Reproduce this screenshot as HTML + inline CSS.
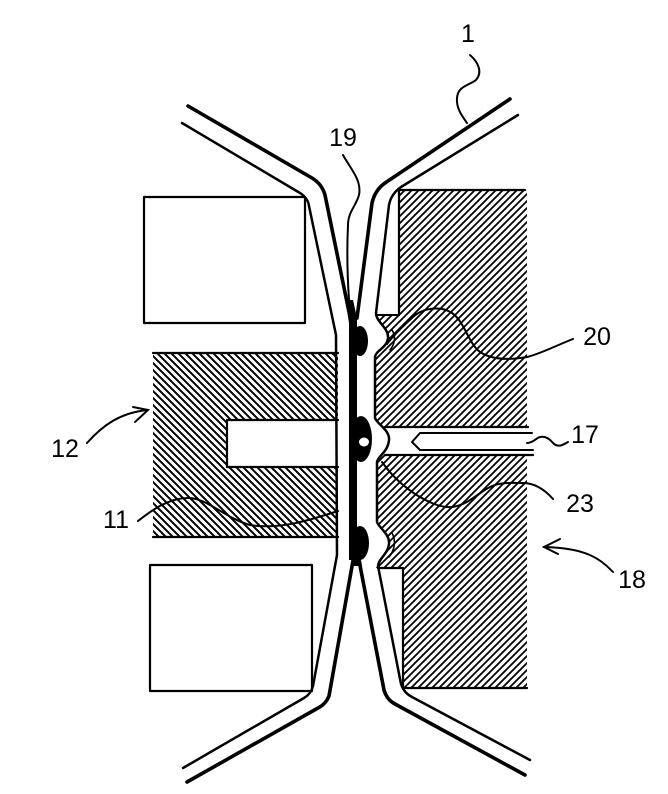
<!DOCTYPE html>
<html><head><meta charset="utf-8"><style>
html,body{margin:0;padding:0;background:#fff;}
svg{display:block;}
text{font-family:"Liberation Sans",Arial,sans-serif;font-size:25px;fill:#000;}
</style></head><body>
<svg width="668" height="794" viewBox="0 0 668 794" xmlns="http://www.w3.org/2000/svg">
<defs>
<pattern id="hr" patternUnits="userSpaceOnUse" x="0" y="0" width="7" height="7">
<path d="M-1,8 L8,-1 M-4,4 L4,-4 M3,11 L11,3" stroke="#000" stroke-width="1.8" fill="none"/>
</pattern>
<pattern id="hl" patternUnits="userSpaceOnUse" x="0" y="0" width="7" height="7">
<path d="M-1,-1 L8,8 M-4,3 L4,11 M3,-4 L11,4" stroke="#000" stroke-width="2" fill="none"/>
</pattern>
</defs>
<rect width="668" height="794" fill="#fff"/>

<!-- right hatched block -->
<path d="M399,190 L527,190 L527,688 L403,688 L403,568 L376,568 L376,315 L399,315 Z" fill="url(#hr)"/>
<rect x="376" y="427" width="156" height="28" fill="#fff"/>
<!-- left hatched block -->
<path d="M153,353 L338,353 L338,537 L153,537 Z" fill="url(#hl)"/>
<rect x="227" y="420" width="112" height="47" fill="#fff"/>

<!-- white sheet region over centre (bumps) -->
<path d="M340,310 L376,313 C376,322 389,328 388,338 C387,348 376,350 375,357 L375,418 C377,424 390,430 389,440 C388,452 378,456 377,462 L377,522 C379,528 390,534 389,544 C388,554 379,558 378,566 L340,566 Z" fill="#fff"/>

<g fill="none" stroke="#000" stroke-linecap="round" stroke-linejoin="round">
<!-- right block outline -->
<path d="M399,315 L399,190 L525,190" stroke-width="2.2"/>
<path d="M376,315 L399,315" stroke-width="2"/>
<path d="M378,568 L403,568 L403,688 L527,688" stroke-width="2.2"/>
<path d="M385,427 L528,427" stroke-width="2.2"/>
<path d="M385,455 L533,455" stroke-width="2.2"/>
<!-- needle 17 -->
<path d="M532,433 L420,433 L412,442 L420,450 L533,450" stroke-width="2"/>
<!-- left block outline -->
<path d="M153,353 L338,353" stroke-width="2.2"/>
<path d="M153,537 L338,537" stroke-width="2.2"/>
<path d="M338,420 L227,420 L227,467 L338,467" stroke-width="2.2"/>

<!-- left rectangles -->
<rect x="144" y="197" width="161" height="126" fill="#fff" stroke-width="2.2"/>
<rect x="150" y="565" width="162" height="126" fill="#fff" stroke-width="2.2"/>

<!-- left sheet outer line B -->
<path d="M182,123 L300,193 Q308,198 309,206 L336,335 L337,555 L313,686 Q311,694 304,698 L183,768" stroke-width="2.5"/>
<!-- left sheet inner line A -->
<path d="M188,106 L312,178 Q322,184 325,195 L349,312 L352,330" stroke-width="3.6"/>
<path d="M354,555 L329,696 Q326,704 318,708 L187,782" stroke-width="3.6"/>
<!-- right sheet inner line C -->
<path d="M510,99 L385,183 Q375,190 372,203 L357,318" stroke-width="3.6"/>
<path d="M358,555 L384,690 Q387,700 395,704 L525,775" stroke-width="3.6"/>
<!-- right sheet outer line D -->
<path d="M518,115 L401,187 Q391,194 389,205 L376,313 C376,322 389,328 388,338 C387,348 376,350 375,357 L375,418 C377,424 390,430 389,440 C388,452 378,456 377,462 L377,522 C379,528 390,534 389,544 C388,554 379,558 378,566 L401,684 Q404,693 412,697 L530,760" stroke-width="2.5"/>
<!-- small hatch-boundary arcs near bumps -->
<path d="M392,330 C396,336 395,344 390,350" stroke-width="1.6"/>
<path d="M392,533 C396,540 395,550 389,557" stroke-width="1.6"/>
</g>

<!-- centre thick seam -->
<rect x="349" y="314" width="8" height="246" fill="#000"/>
<path d="M348,300 L353,300 L357,318 L349,318 Z" fill="#000"/>
<ellipse cx="360" cy="341" rx="8" ry="15" fill="#000"/>
<ellipse cx="361" cy="439" rx="11" ry="23" fill="#000"/>
<ellipse cx="364" cy="442" rx="5" ry="4.5" fill="#fff"/>
<ellipse cx="360" cy="543" rx="9" ry="17" fill="#000"/>
<path d="M353,555 L360,555 L362,566 L351,566 Z" fill="#000"/>

<!-- leaders -->
<g fill="none" stroke="#000" stroke-width="2" stroke-linecap="round">
<path d="M470,55 C478,62 483,72 476,80 C468,86 458,86 457,98 C456,108 462,116 467,123"/>
<path d="M343,155 C350,168 362,180 359,195 C356,206 348,212 348,225 C347,245 347,270 349,300"/>
<path d="M573,339 C555,346 540,354 527,357 C510,360 492,360 480,352 C468,343 465,322 452,313 C442,306 424,307 413,317 C402,327 393,336 387,344"/>
<path d="M568,442 C563,445 558,448 553,443 C549,438 545,436 540,437 C536,438 533,443 527,443"/>
<path d="M553,499 C545,490 535,483 523,483 C510,483 500,482 490,487 C478,493 468,505 452,507 C440,508 428,502 415,494 C402,485 392,476 382,462"/>
<path d="M138,521 C152,510 170,497 190,498 C210,500 225,518 250,525 C280,530 310,520 338,511"/>
<path d="M87,443 C103,425 120,413 147,410"/>
<path d="M133,407 L148,410 L135,422"/>
<path d="M613,572 C600,558 585,548 544,547"/>
<path d="M560,539 L544,547 L558,554"/>
</g>

<!-- labels -->
<text x="468" y="42" text-anchor="middle">1</text>
<text x="343" y="146" text-anchor="middle">19</text>
<text x="597" y="345" text-anchor="middle">20</text>
<text x="585" y="443" text-anchor="middle">17</text>
<text x="580" y="512" text-anchor="middle">23</text>
<text x="65" y="457" text-anchor="middle">12</text>
<text x="116" y="528" text-anchor="middle">11</text>
<text x="632" y="588" text-anchor="middle">18</text>
</svg>
</body></html>
